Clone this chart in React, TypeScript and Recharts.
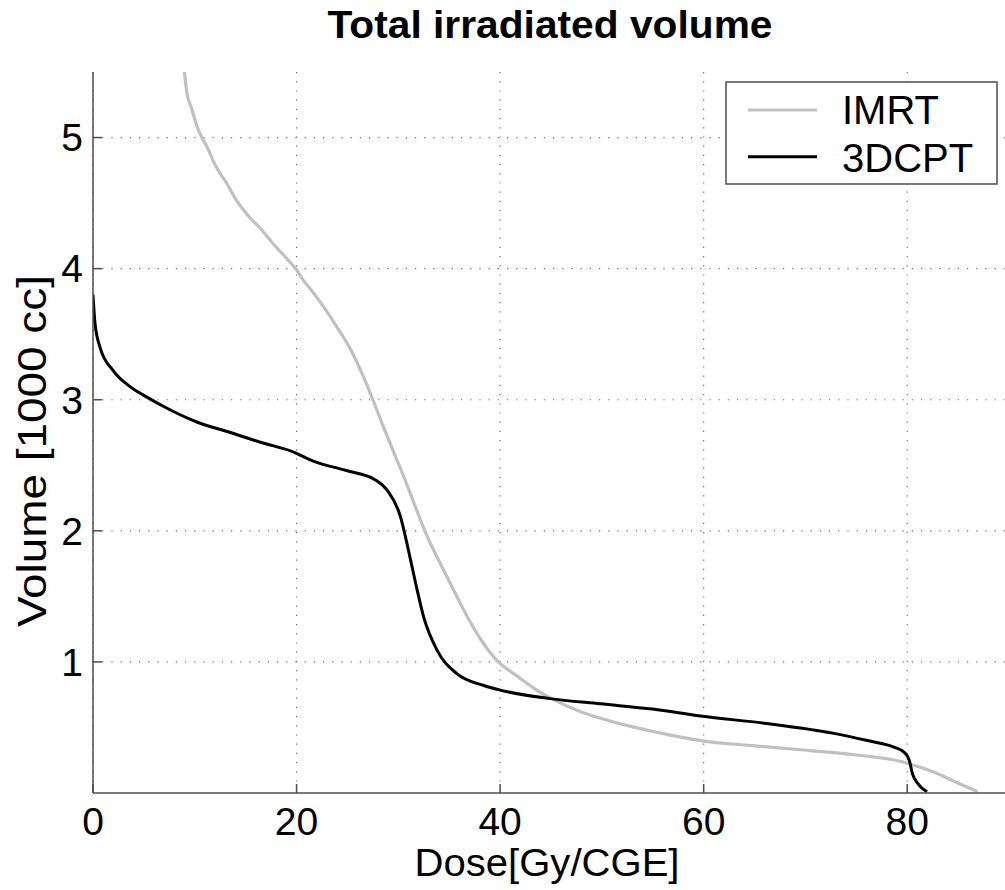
import React from 'react';
import { LineChart, Line, XAxis, YAxis, CartesianGrid } from 'recharts';

// dose [Gy/CGE] and volume [1000 cc]
const imrtDose = [
  8.98, 9.21, 9.7, 10.2, 10.7, 11.2, 12.0, 13.15, 14.1, 15.4, 16.4, 17.7, 19.0, 20.0, 20.5,
  21.7, 23.0, 24.0, 24.9, 25.6, 26.6, 27.5, 28.5, 29.7, 30.5, 31.5, 32.6, 33.8, 35.1, 36.4,
  37.7, 39.7, 41.7, 43.6, 45.3, 47.6, 49.85, 55, 59.7, 65, 69.5, 75, 79.4, 80.7, 82.6, 84.6, 86.9,
];
const imrtVolume = [
  5.5, 5.35, 5.22, 5.09, 5.0, 4.93, 4.79, 4.65, 4.52, 4.39, 4.31, 4.19, 4.08, 3.99, 3.93,
  3.81, 3.67, 3.55, 3.44, 3.34, 3.17, 3.0, 2.8, 2.57, 2.42, 2.22, 2.0, 1.8, 1.6, 1.4,
  1.22, 1.01, 0.89, 0.785, 0.71, 0.63, 0.57, 0.47, 0.4, 0.36, 0.33, 0.29, 0.24, 0.21, 0.16, 0.09, 0.01,
];

const cptDose = [
  0, 0.2, 0.69, 2.0, 3.64, 5.3, 6.9, 10.2, 13.5, 16.7, 19.4, 21.7, 24.9, 27.7, 28.9, 30.2,
  31.0, 31.7, 32.5, 33.8, 35.75, 38.4, 40, 44.9, 49.85, 55, 59.7, 66.2, 72.8, 76.1, 78.7,
  79.7, 80.2, 80.5, 81.0, 81.95,
];
const cptVolume = [
  3.8, 3.58, 3.4, 3.22, 3.1, 3.02, 2.95, 2.83, 2.75, 2.67, 2.61, 2.53, 2.46, 2.39, 2.31, 2.11,
  1.85, 1.6, 1.34, 1.09, 0.91, 0.82, 0.785, 0.72, 0.68, 0.64, 0.587, 0.53, 0.455, 0.4, 0.35,
  0.31, 0.25, 0.15, 0.076, 0.01,
];

const xTicks = [0, 20, 40, 60, 80];
const yTicks = [1, 2, 3, 4, 5];

const series = [
  { name: 'IMRT', color: '#c0c0c0' },
  { name: '3DCPT', color: '#000000' },
];

const imrtData = imrtDose.map((d, i) => ({ dose: d, volume: imrtVolume[i] }));
const cptData = cptDose.map((d, i) => ({ dose: d, volume: cptVolume[i] }));

const FONT = '"Liberation Sans", Arial, Helvetica, sans-serif';
const AXIS = '#4d4d4d';
const tickStyle = { fontSize: 39, fill: '#000', fontFamily: FONT };
const blank = () => '';

export default function App() {
  return (
    <div
      style={{
        position: 'absolute',
        left: 0,
        top: 0,
        width: 1005,
        height: 890,
        overflow: 'hidden',
        background: '#fff',
      }}
    >
      <LineChart
        width={1020}
        height={890}
        margin={{ top: 72, right: 11, left: 18, bottom: 0 }}
      >
        <CartesianGrid
          xAxisId="b"
          yAxisId="l"
          stroke="#6a6a6a"
          strokeWidth={1.2}
          strokeDasharray="1.2 8"
          verticalValues={xTicks}
          horizontalValues={yTicks}
        />
        <XAxis
          xAxisId="b"
          type="number"
          dataKey="dose"
          domain={[0, 90]}
          ticks={xTicks}
          interval={0}
          allowDataOverflow
          height={97}
          stroke={AXIS}
          strokeWidth={1.5}
          tickSize={-9}
          tickMargin={23}
          tick={tickStyle}
        />
        <XAxis
          xAxisId="t"
          orientation="top"
          type="number"
          dataKey="dose"
          domain={[0, 90]}
          ticks={xTicks}
          interval={0}
          height={0}
          stroke={AXIS}
          strokeWidth={1.5}
          tickSize={-9}
          tickFormatter={blank}
        />
        <YAxis
          yAxisId="l"
          type="number"
          domain={[0, 5.5]}
          ticks={yTicks}
          interval={0}
          allowDataOverflow
          width={75}
          stroke={AXIS}
          strokeWidth={1.5}
          tickSize={-9}
          tickMargin={19}
          tick={tickStyle}
        />
        <YAxis
          yAxisId="r"
          orientation="right"
          type="number"
          domain={[0, 5.5]}
          ticks={yTicks}
          interval={0}
          width={0}
          stroke={AXIS}
          strokeWidth={1.5}
          tickSize={-9}
          tickFormatter={blank}
        />
        <Line
          xAxisId="b"
          yAxisId="l"
          data={imrtData}
          dataKey="volume"
          name={series[0].name}
          type="monotone"
          stroke={series[0].color}
          strokeWidth={3.2}
          dot={false}
          activeDot={false}
          isAnimationActive={false}
        />
        <Line
          xAxisId="b"
          yAxisId="l"
          data={cptData}
          dataKey="volume"
          name={series[1].name}
          type="monotone"
          stroke={series[1].color}
          strokeWidth={3}
          dot={false}
          activeDot={false}
          isAnimationActive={false}
        />
      </LineChart>

      <svg
        width={1005}
        height={890}
        style={{ position: 'absolute', left: 0, top: 0, pointerEvents: 'none' }}
      >
        <text
          x={550}
          y={38}
          textAnchor="middle"
          fontFamily={FONT}
          fontWeight="bold"
          fontSize={39}
          textLength={445}
          lengthAdjust="spacingAndGlyphs"
        >
          Total irradiated volume
        </text>
        <text
          x={547}
          y={876}
          textAnchor="middle"
          fontFamily={FONT}
          fontSize={39}
          textLength={265}
          lengthAdjust="spacingAndGlyphs"
        >
          Dose[Gy/CGE]
        </text>
        <text
          x={0}
          y={0}
          transform="translate(46 451) rotate(-90)"
          textAnchor="middle"
          fontFamily={FONT}
          fontSize={40}
          textLength={352}
          lengthAdjust="spacingAndGlyphs"
        >
          Volume [1000 cc]
        </text>

        {/* legend */}
        <rect x={726} y={82} width={271} height={102} fill="#fff" stroke={AXIS} strokeWidth={1.5} />
        {series.map((s, i) => (
          <g key={s.name}>
            <line
              x1={748}
              x2={817}
              y1={110 + i * 46.7}
              y2={110 + i * 46.7}
              stroke={s.color}
              strokeWidth={3}
            />
            <text x={842} y={123.5 + i * 48} fontFamily={FONT} fontSize={40}>
              {s.name}
            </text>
          </g>
        ))}
      </svg>
    </div>
  );
}
